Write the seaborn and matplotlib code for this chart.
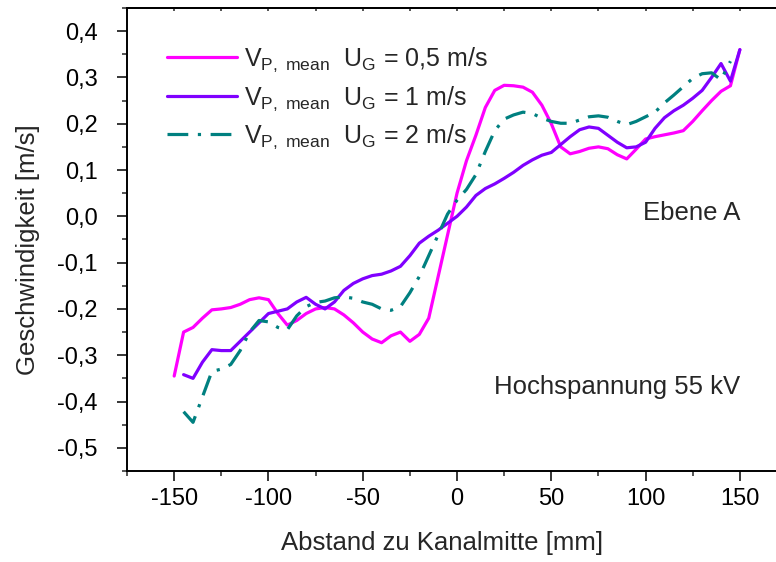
import numpy as np
import pandas as pd
import matplotlib
matplotlib.use("Agg")
import matplotlib.pyplot as plt
from matplotlib.ticker import MultipleLocator, FuncFormatter
import seaborn as sns

# Abstand zu Kanalmitte [mm] und mittlere Partikelgeschwindigkeit [m/s]
x_05 = [-150, -145, -140, -135, -130, -125, -120, -115, -110, -105, -100, -95, -90, -85,
        -80, -75, -70, -65, -60, -55, -50, -45, -40, -35, -30, -25, -20, -15, -10, -5,
        0, 5, 10, 15, 20, 25, 30, 35, 40, 45, 50, 55, 60, 65, 70, 75, 80, 85, 90, 95,
        100, 105, 110, 115, 120, 125, 130, 135, 140, 145, 150]
v_05 = [-0.345, -0.25, -0.24, -0.22, -0.202, -0.2, -0.197, -0.19, -0.18, -0.176, -0.18,
        -0.21, -0.235, -0.225, -0.21, -0.2, -0.197, -0.2, -0.213, -0.23, -0.25, -0.265,
        -0.273, -0.258, -0.25, -0.27, -0.255, -0.22, -0.13, -0.04, 0.05, 0.12, 0.175,
        0.235, 0.272, 0.283, 0.282, 0.279, 0.268, 0.24, 0.2, 0.15, 0.135, 0.14, 0.147,
        0.15, 0.146, 0.133, 0.124, 0.145, 0.167, 0.172, 0.176, 0.18, 0.185, 0.205, 0.228,
        0.25, 0.27, 0.282, 0.36]

x_1 = [-145, -140, -135, -130, -125, -120, -115, -110, -105, -100, -95, -90, -85, -80,
       -75, -70, -65, -60, -55, -50, -45, -40, -35, -30, -25, -20, -15, -10, -5, 0, 5,
       10, 15, 20, 25, 30, 35, 40, 45, 50, 55, 60, 65, 70, 75, 80, 85, 90, 95, 100, 105,
       110, 115, 120, 125, 130, 135, 140, 145, 150]
v_1 = [-0.342, -0.35, -0.315, -0.288, -0.29, -0.29, -0.27, -0.25, -0.23, -0.21, -0.205,
       -0.2, -0.185, -0.175, -0.19, -0.2, -0.185, -0.16, -0.145, -0.135, -0.128, -0.125,
       -0.118, -0.108, -0.085, -0.058, -0.043, -0.03, -0.015, 0.0, 0.02, 0.045, 0.06,
       0.07, 0.082, 0.095, 0.11, 0.122, 0.132, 0.138, 0.155, 0.172, 0.187, 0.193, 0.19,
       0.175, 0.16, 0.148, 0.15, 0.16, 0.19, 0.213, 0.228, 0.24, 0.255, 0.272, 0.3, 0.33,
       0.292, 0.36]

x_2 = [-145, -140, -135, -130, -125, -120, -115, -110, -105, -100, -95, -90, -85, -80,
       -75, -70, -65, -60, -55, -50, -45, -40, -35, -30, -25, -20, -15, -10, -5, 0, 5,
       10, 15, 20, 25, 30, 35, 40, 45, 50, 55, 60, 65, 70, 75, 80, 85, 90, 95, 100, 105,
       110, 115, 120, 125, 130, 135, 140, 145]
v_2 = [-0.422, -0.445, -0.39, -0.335, -0.33, -0.32, -0.29, -0.25, -0.225, -0.228, -0.24,
       -0.245, -0.215, -0.195, -0.186, -0.183, -0.176, -0.174, -0.177, -0.185, -0.19,
       -0.2, -0.203, -0.195, -0.165, -0.13, -0.085, -0.04, 0.005, 0.035, 0.058, 0.09,
       0.14, 0.185, 0.21, 0.219, 0.225, 0.222, 0.212, 0.205, 0.201, 0.201, 0.208, 0.215,
       0.217, 0.214, 0.205, 0.198, 0.205, 0.215, 0.225, 0.245, 0.262, 0.28, 0.298, 0.308,
       0.31, 0.295, 0.335]

labels = [r"V$_{\mathrm{P,\ mean}}$  U$_{\mathrm{G}}$ = 0,5 m/s",
          r"V$_{\mathrm{P,\ mean}}$  U$_{\mathrm{G}}$ = 1 m/s",
          r"V$_{\mathrm{P,\ mean}}$  U$_{\mathrm{G}}$ = 2 m/s"]

sns.set_theme(style="ticks")
plt.rcParams["font.family"] = ["Liberation Sans", "DejaVu Sans"]
plt.rcParams["mathtext.fontset"] = "custom"
plt.rcParams["mathtext.rm"] = "Liberation Sans"
plt.rcParams["mathtext.it"] = "Liberation Sans:italic"
plt.rcParams["mathtext.bf"] = "Liberation Sans:bold"

fig = plt.figure(figsize=(7.76, 5.62), dpi=100)
ax = fig.add_axes([0.1637, 0.162, 0.8505, 0.8238])

lw = 2.3
sns.lineplot(x=x_05, y=v_05, color="#FF00FF", lw=lw, ax=ax, label=labels[0],
             estimator=None, sort=False)
sns.lineplot(x=x_1, y=v_1, color="#8000FF", lw=lw, ax=ax, label=labels[1],
             estimator=None, sort=False)
sns.lineplot(x=x_2, y=v_2, color="#008080", lw=lw, ax=ax, label=labels[2],
             estimator=None, sort=False, linestyle=(0, (6.5, 3, 1, 3)))

ax.set_xlim(-175, 175)
ax.set_ylim(-0.55, 0.45)
ax.xaxis.set_major_locator(MultipleLocator(50))
ax.xaxis.set_minor_locator(MultipleLocator(25))
ax.yaxis.set_major_locator(MultipleLocator(0.1))
ax.yaxis.set_minor_locator(MultipleLocator(0.05))
ax.xaxis.set_major_formatter(FuncFormatter(lambda v, p: f"{v:.0f}"))
ax.yaxis.set_major_formatter(FuncFormatter(lambda v, p: f"{v:.1f}".replace(".", ",")))

for s in ["left", "bottom", "top", "right"]:
    ax.spines[s].set_linewidth(1.4)
    ax.spines[s].set_color("black")
ax.tick_params(which="major", direction="out", length=7, width=1.1, labelsize=17,
               colors="black", pad=5)
ax.tick_params(axis="y", which="major", pad=14)
ax.tick_params(which="minor", direction="out", length=3.5, width=1.1)

top = ax.secondary_xaxis("top")
top.xaxis.set_major_locator(MultipleLocator(50))
top.xaxis.set_minor_locator(MultipleLocator(25))
top.tick_params(which="both", direction="in", length=2.5, width=1.1, labeltop=False)
top.spines["top"].set_linewidth(1.4)

ax.set_xlabel("Abstand zu Kanalmitte [mm]", fontsize=18.5)
ax.set_ylabel("Geschwindigkeit [m/s]", fontsize=18.5)
ax.xaxis.set_label_coords((442 - 127) / 660, -(531 - 471) / 463)
ax.yaxis.set_label_coords(-(127 - 40) / 660, (471 - 250) / 463)

ax.text((740 - 127) / 660, (471 - 213) / 463, "Ebene A", transform=ax.transAxes,
        ha="right", va="center", fontsize=18.5)
ax.text((740 - 127) / 660, (471 - 387) / 463, "Hochspannung 55 kV",
        transform=ax.transAxes, ha="right", va="center", fontsize=18.5)

ax.legend(loc="upper left", bbox_to_anchor=(0.06, 0.918), frameon=False, fontsize=18,
          handlelength=2.8, handletextpad=0.3, labelspacing=0.4, borderaxespad=0,
          borderpad=0)

fig.savefig("out.png", dpi=100)
